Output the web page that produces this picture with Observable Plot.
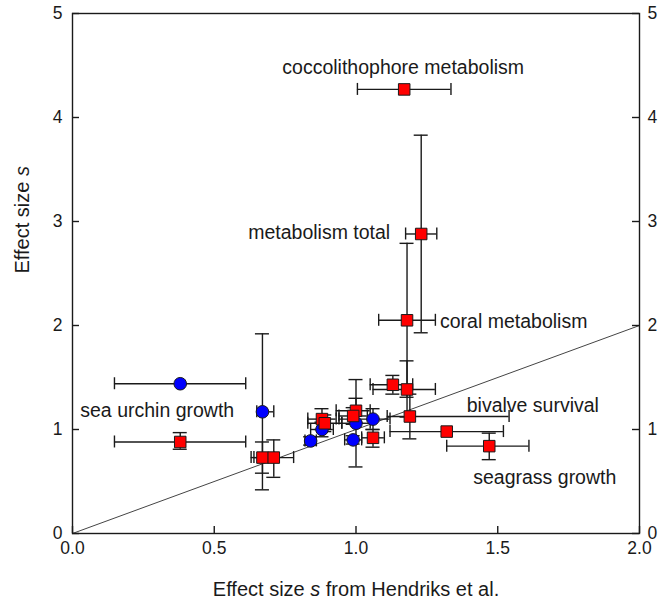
<!DOCTYPE html>
<html><head><meta charset="utf-8">
<script src="https://cdn.jsdelivr.net/npm/d3@7"></script>
<script src="https://cdn.jsdelivr.net/npm/@observablehq/plot@0.6"></script>
<style>body{margin:0;background:#fff;font-family:"Liberation Sans",Arial,sans-serif;}</style>
</head><body><div id="chart"></div>
<script>
// Red squares
const redX   = [1.17, 1.23, 1.18, 0.38, 0.67, 0.71, 0.88, 0.89, 1.00, 0.99, 1.06, 1.13, 1.18, 1.19, 1.32, 1.47];
const redY   = [4.27, 2.88, 2.05, 0.88, 0.73, 0.73, 1.10, 1.06, 1.18, 1.13, 0.92, 1.43, 1.385, 1.125, 0.98, 0.84];
const redXlo = [1.005, 1.175, 1.08, 0.148, 0.63, 0.64, 0.83, 0.83, 0.93, 0.94, 1.02, 1.05, 1.06, 1.11, 1.12, 1.32];
const redXhi = [1.335, 1.285, 1.28, 0.611, 0.71, 0.78, 0.93, 0.95, 1.05, 1.04, 1.10, 1.20, 1.28, 1.54, 1.52, 1.61];
const redYlo = [null, 1.93, 1.31, 0.81, 0.58, 0.54, 1.00, 0.98, 1.06, 1.05, 0.83, 1.34, 1.12, 0.91, null, 0.71];
const redYhi = [null, 3.83, 2.79, 0.97, 0.88, 0.90, 1.20, 1.14, 1.30, 1.21, 1.00, 1.52, 1.66, 1.34, null, 0.965];
// Blue circles
const blueX   = [0.38, 0.67, 0.84, 0.88, 1.00, 0.99, 1.06];
const blueY   = [1.44, 1.17, 0.89, 1.00, 1.06, 0.90, 1.10];
const blueXlo = [0.148, 0.65, 0.82, 0.84, 0.95, 0.96, 0.94];
const blueXhi = [0.611, 0.71, 0.86, 0.92, 1.05, 1.02, 1.12];
const blueYlo = [null, 0.42, 0.85, 0.93, 0.64, 0.86, 1.00];
const blueYhi = [null, 1.92, 0.93, 1.07, 1.48, 0.94, 1.20];
// Labels
const labelNames = ["coccolithophore metabolism", "metabolism total", "coral metabolism", "sea urchin growth", "bivalve survival", "seagrass growth"];
// Axes
const xTicks = [0, 0.5, 1.0, 1.5, 2.0];
const yTicks = [0, 1, 2, 3, 4, 5];
const diagX = [0, 2];
const diagY = [0, 2];
const xTitle = "Effect size s from Hendriks et al.";
const yTitle = "Effect size s";

const build = (X, Y, XL, XH, YL, YH) => X.map((x, i) => ({x, y: Y[i], xlo: XL[i], xhi: XH[i], ylo: YL[i], yhi: YH[i]}));
const red = build(redX, redY, redXlo, redXhi, redYlo, redYhi);
const blue = build(blueX, blueY, blueXlo, blueXhi, blueYlo, blueYhi);
const all = [...red, ...blue];
const withY = all.filter(d => d.ylo != null);
const diag = diagX.map((x, i) => ({x, y: diagY[i]}));

const W = 661, H = 608, mL = 72, mR = 22, mT = 13, mB = 75;
const iw = W - mL - mR, ih = H - mT - mB;
const ink = "#1a1a1a";
const font = "Liberation Sans, Arial, sans-serif";
const fx = d3.format(".1f"), fy = d3.format("d");

function errMarks(data, dataY) {
  return [
    Plot.ruleY(data, {y: "y", x1: "xlo", x2: "xhi", stroke: ink, strokeWidth: 1.4}),
    Plot.ruleX(data, {x: "xlo", y1: "y", y2: "y", insetTop: 6, insetBottom: 6, stroke: ink, strokeWidth: 1.4}),
    Plot.ruleX(data, {x: "xhi", y1: "y", y2: "y", insetTop: 6, insetBottom: 6, stroke: ink, strokeWidth: 1.4}),
    Plot.ruleX(dataY, {x: "x", y1: "ylo", y2: "yhi", stroke: ink, strokeWidth: 1.4}),
    Plot.ruleY(dataY, {y: "ylo", x1: "x", x2: "x", insetLeft: 7, insetRight: 7, stroke: ink, strokeWidth: 1.4}),
    Plot.ruleY(dataY, {y: "yhi", x1: "x", x2: "x", insetLeft: 7, insetRight: 7, stroke: ink, strokeWidth: 1.4})
  ];
}

const lab = (pt, i, opts) => Plot.text([pt], {x: "x", y: "y", text: () => labelNames[i], fontSize: 19.5, fill: ink, fontFamily: font, ...opts});

const chart = Plot.plot({
  width: W, height: H,
  marginLeft: mL, marginRight: mR, marginTop: mT, marginBottom: mB,
  style: {fontFamily: font, background: "#fff"},
  x: {domain: [0, 2]},
  y: {domain: [0, 5]},
  marks: [
    Plot.line(diag, {x: "x", y: "y", stroke: "#444", strokeWidth: 1}),
    ...errMarks(all, withY),
    Plot.dot(blue, {x: "x", y: "y", r: 6.3, fill: "#0000ff", stroke: ink, strokeWidth: 1}),
    Plot.dot(red, {x: "x", y: "y", r: 6.5, symbol: "square", fill: "#ff0000", stroke: ink, strokeWidth: 1}),
    Plot.frame({stroke: ink, strokeWidth: 1.4}),
    // inward ticks
    Plot.tickY(yTicks, {y: d => d, insetRight: iw - 7, stroke: ink, strokeWidth: 1.4}),
    Plot.tickY(yTicks, {y: d => d, insetLeft: iw - 7, stroke: ink, strokeWidth: 1.4}),
    Plot.tickX(xTicks, {x: d => d, insetTop: ih - 7, stroke: ink, strokeWidth: 1.4}),
    Plot.axisX({anchor: "bottom", ticks: xTicks, tickFormat: fx, tickSize: 0, tickPadding: 8, fontSize: 17.5, label: null, color: ink}),
    Plot.axisY({anchor: "left", ticks: yTicks, tickFormat: fy, tickSize: 0, tickPadding: 10, fontSize: 17.5, label: null, color: ink}),
    Plot.axisY({anchor: "right", ticks: yTicks, tickFormat: fy, tickSize: 0, tickPadding: 8, fontSize: 17.5, label: null, color: ink}),
    Plot.text([xTitle], {frameAnchor: "bottom", dy: 62, fontSize: 20, fill: ink, fontFamily: font}),
    Plot.text([yTitle], {frameAnchor: "left", rotate: -90, dx: -50, fontSize: 20, fill: ink, fontFamily: font}),
    lab(red[0], 0, {dx: -1, dy: -22}),
    lab(red[1], 1, {dx: -31, dy: -1, textAnchor: "end"}),
    lab(red[2], 2, {dx: 33, dy: 1, textAnchor: "start"}),
    lab(red[3], 3, {dx: -23, dy: -31}),
    lab(red[14], 4, {dx: 20, dy: -26, textAnchor: "start"}),
    lab(red[15], 5, {dx: -16, dy: 32, textAnchor: "start"})
  ]
});

// italic "s" in axis titles
chart.querySelectorAll("text").forEach(t => {
  const s = t.textContent.trim();
  if (s === xTitle || s === yTitle) {
    const idx = s.indexOf(" s ") >= 0 ? s.indexOf(" s ") + 1 : s.length - 1;
    const a = s.slice(0, idx), b = s.slice(idx + 1);
    t.innerHTML = a.replace(/ $/, "&#160;") + '<tspan font-style="italic" style="font-style:italic">s</tspan>' + (b ? b.replace(/^ /, "&#160;") : "");
  }
});
document.getElementById("chart").appendChild(chart);
</script></body></html>
